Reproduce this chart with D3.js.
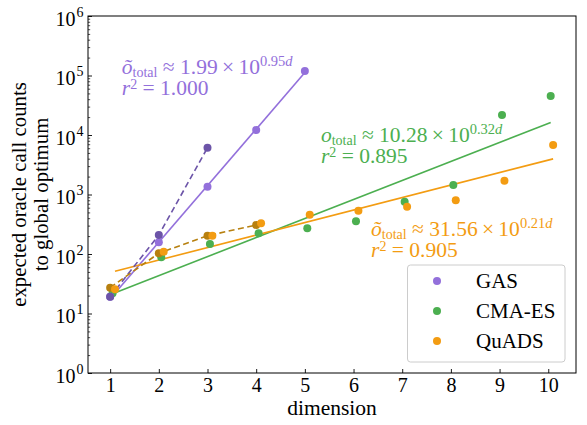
<!DOCTYPE html>
<html>
<head>
<meta charset="utf-8">
<script src="https://cdn.jsdelivr.net/npm/d3@7"></script>
<style>
  html, body { margin: 0; padding: 0; background: #fff; }
  svg { display: block; }
  svg text, svg tspan { font-family: "Liberation Serif", "Times New Roman", serif !important; }
</style>
</head>
<body>
<div id="chart"></div>
<script>
// ---------------- data ----------------
const dims = [1, 2, 3, 4, 5, 6, 7, 8, 9, 10];
const gasDims = [1, 2, 3, 4, 5];
const gasValues = [19.2, 157, 1350, 12100, 119000];
const gasAltDims = [1, 2, 3];
const gasAltValues = [19.2, 208, 6120];
const cmaValues = [22, 88, 147, 223, 270, 354, 757, 1445, 21700, 45200];
const quadsValues = [25.5, 109, 203, 328, 458, 535, 624, 798, 1706, 6790];
const quadsAltDims = [1, 2, 3, 4];
const quadsAltValues = [27.2, 103, 203, 307];
// fit parameters as printed on the chart: value ≈ a * 10^(b d), over a d range
const fitA = [1.99, 10.28, 31.56];
const fitB = [0.95, 0.32, 0.21];
const fitR2 = ["1.000", "0.895", "0.905"];
const fitRange = [[1, 5], [1, 10], [1, 10]];
const seriesNames = ["GAS", "CMA-ES", "QuADS"];
const xTicks = [1, 2, 3, 4, 5, 6, 7, 8, 9, 10];
const yTickExps = [0, 1, 2, 3, 4, 5, 6];

// ---------------- style / layout ----------------
const W = 587, H = 425;
const M = { left: 88, right: 576, top: 16, bottom: 373 };
const colors = ["#9370db", "#4caf50", "#f39c12"];
const altColors = { gas: "#6c54a8", quads: "#b7800f" };
const xOffsets = [0, 0.05, 0.1];
const R = 4;
const SERIF = '"Liberation Serif", "Times New Roman", serif';
const TS = "\u2009";

const svg = d3.select("#chart").append("svg").attr("width", W).attr("height", H)
  .attr("font-family", SERIF);

const x = d3.scaleLinear().domain([0.545, 10.57]).range([M.left, M.right]);
const y = d3.scaleLog().domain([1, 1e6]).range([M.bottom, M.top]);

// ---------------- axes ----------------
const gx = svg.append("g").attr("transform", `translate(0,${M.bottom})`)
  .call(d3.axisBottom(x).tickValues(xTicks).tickSizeInner(-4).tickSizeOuter(0).tickPadding(0).tickFormat(d3.format("d")));
gx.select(".domain").remove();
gx.selectAll(".tick line").attr("stroke", "#000").attr("stroke-width", 0.9);
gx.selectAll(".tick text").attr("font-size", 20).attr("fill", "#000")
  .attr("font-family", SERIF).attr("y", 19).attr("dy", null);

// y minor ticks
const minor = [];
for (let e = 0; e < 6; e++) for (let k = 2; k <= 9; k++) minor.push(k * Math.pow(10, e));
const gy = svg.append("g").attr("transform", `translate(${M.left},0)`);
gy.call(d3.axisLeft(y).tickValues(minor).tickSizeInner(-2.2).tickSizeOuter(0).tickFormat(""));
gy.select(".domain").remove();
gy.selectAll(".tick line").attr("stroke", "#000").attr("stroke-width", 0.7);
const gy2 = svg.append("g").attr("transform", `translate(${M.left},0)`);
gy2.call(d3.axisLeft(y).tickValues(yTickExps.map(e => Math.pow(10, e))).tickSizeInner(-4).tickSizeOuter(0).tickFormat(""));
gy2.select(".domain").remove();
gy2.selectAll(".tick line").attr("stroke", "#000").attr("stroke-width", 0.9);

// y tick labels 10^n
const yl = svg.append("g");
yTickExps.forEach(e => {
  yl.append("text").attr("x", 75.5).attr("y", y(Math.pow(10, e)) + 9.5)
    .attr("text-anchor", "end").attr("font-size", 20).attr("fill", "#000").text("10");
  yl.append("text").attr("x", 76.5).attr("y", y(Math.pow(10, e)) + 0.5)
    .attr("font-size", 14).attr("fill", "#000").text(String(e));
});

// frame
svg.append("rect").attr("x", M.left).attr("y", M.top)
  .attr("width", M.right - M.left).attr("height", M.bottom - M.top)
  .attr("fill", "none").attr("stroke", "#000").attr("stroke-width", 1);

// axis labels
svg.append("text").attr("x", (M.left + M.right) / 2).attr("y", 415)
  .attr("text-anchor", "middle").attr("font-size", 21.5).text("dimension");
const ylab = svg.append("text").attr("transform", `translate(0,${(M.top + M.bottom) / 2}) rotate(-90)`)
  .attr("text-anchor", "middle").attr("font-size", 20.8);
ylab.append("tspan").attr("x", 0).attr("y", 26).text("expected oracle call counts");
ylab.append("tspan").attr("x", 0).attr("y", 48).text("to global optimum");

// ---------------- plot ----------------
const plot = svg.append("g");
const line = d3.line().x(d => x(d[0])).y(d => y(d[1]));

// fit lines
fitA.forEach((a, i) => {
  const pts = fitRange[i].map(d => [d + xOffsets[i], a * Math.pow(10, fitB[i] * d)]);
  plot.append("path").attr("d", line(pts)).attr("fill", "none")
    .attr("stroke", colors[i]).attr("stroke-width", 1.6);
});

// dashed alternative series
plot.append("path").attr("d", line(gasAltDims.map((d, j) => [d, gasAltValues[j]])))
  .attr("fill", "none").attr("stroke", altColors.gas).attr("stroke-width", 1.6).attr("stroke-dasharray", "6,3.5");
plot.append("path").attr("d", line(quadsAltDims.map((d, j) => [d, quadsAltValues[j]])))
  .attr("fill", "none").attr("stroke", altColors.quads).attr("stroke-width", 1.6).attr("stroke-dasharray", "6,3.5");

// points
function dots(ds, vs, off, col) {
  plot.append("g").selectAll("circle").data(ds.map((d, j) => [d + off, vs[j]])).join("circle")
    .attr("cx", d => x(d[0])).attr("cy", d => y(d[1])).attr("r", R).attr("fill", col);
}
dots(dims, cmaValues, xOffsets[1], colors[1]);
dots(quadsAltDims, quadsAltValues, 0, altColors.quads);
dots(dims, quadsValues, xOffsets[2], colors[2]);
dots(gasDims, gasValues, xOffsets[0], colors[0]);
dots(gasAltDims, gasAltValues, 0, altColors.gas);

// ---------------- annotations ----------------
const annPos = [[1.24, 5.02], [5.33, 3.88], [6.36, 2.30]]; // [d, log10 value] of baseline start
const oSym = ["õ", "o", "õ"];
annPos.forEach((p, i) => {
  const ax = x(p[0]), ay = y(Math.pow(10, p[1]));
  const g = svg.append("g").attr("fill", colors[i]);
  const t1 = g.append("text").attr("x", ax).attr("y", ay).attr("font-size", 21.5);
  t1.append("tspan").attr("font-style", "italic").text(oSym[i]);
  t1.append("tspan").attr("font-size", 14).attr("dy", 2.5).text("total");
  t1.append("tspan").attr("dy", -2.5).text(" ≈ " + fitA[i].toFixed(2) + TS + "×" + TS + "10");
  t1.append("tspan").attr("font-size", 14.5).attr("dy", -8.5).text(fitB[i].toFixed(2));
  t1.append("tspan").attr("font-size", 14.5).attr("font-style", "italic").text("d");
  const t2 = g.append("text").attr("x", ax).attr("y", ay + 21).attr("font-size", 21.5);
  t2.append("tspan").attr("font-style", "italic").text("r");
  t2.append("tspan").attr("font-size", 14).attr("dy", -6).text("2");
  t2.append("tspan").attr("dy", 6).text(" = " + fitR2[i]);
});

// ---------------- legend ----------------
const lg = svg.append("g");
lg.append("rect").attr("x", 407.5).attr("y", 265).attr("width", 157.5).attr("height", 97)
  .attr("rx", 3).attr("fill", "#fff").attr("fill-opacity", 0.85).attr("stroke", "#cccccc").attr("stroke-width", 1);
seriesNames.forEach((n, i) => {
  const cy = 281 + i * 30;
  lg.append("circle").attr("cx", 437).attr("cy", cy).attr("r", R).attr("fill", colors[i]);
  lg.append("text").attr("x", 476).attr("y", cy + 7).attr("font-size", 21).attr("fill", "#000").text(n);
});
</script>
</body>
</html>
